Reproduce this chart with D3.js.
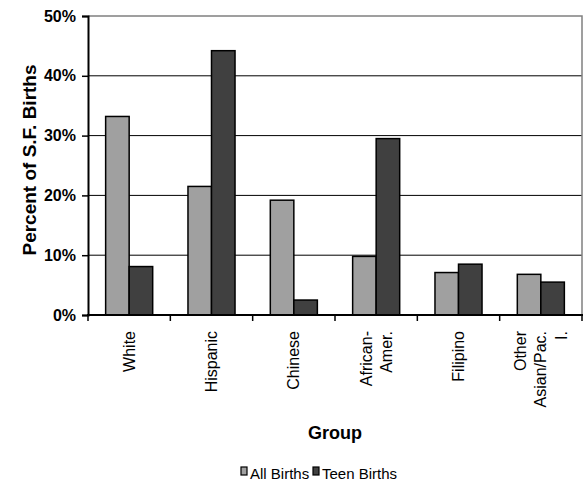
<!DOCTYPE html>
<html>
<head>
<meta charset="utf-8">
<script src="https://cdn.jsdelivr.net/npm/d3@7"></script>
<style>
  html, body { margin: 0; padding: 0; background: #fff; }
  svg { display: block; font-family: Arial, "Liberation Sans", sans-serif; }
</style>
</head>
<body>
<svg id="chart" width="584" height="487"></svg>
<script>
// Share of San Francisco births by group (percent)
const categories = ["White", "Hispanic", "Chinese", "African-\nAmer.", "Filipino", "Other\nAsian/Pac.\nI."];
const allBirths  = [33.2, 21.5, 19.2, 9.8, 7.1, 6.8];
const teenBirths = [8.1, 44.2, 2.5, 29.5, 8.5, 5.5];
const seriesNames = ["All Births", "Teen Births"];
const seriesColors = ["#a0a0a0", "#404040"];
const yTicks = [0, 10, 20, 30, 40, 50];

const svg = d3.select("#chart");
const plot = { left: 88, right: 582, top: 16, bottom: 315 };

const x = d3.scaleBand().domain(categories).range([plot.left, plot.right]).padding(0);
const xs = d3.scaleBand().domain(seriesNames).range([0, x.bandwidth()])
  .paddingInner(0).paddingOuter(0.75);
const y = d3.scaleLinear().domain([0, 50]).range([plot.bottom, plot.top]);

// gridlines
svg.append("g")
  .selectAll("line")
  .data(yTicks.filter(t => t > 0 && t < 50))
  .join("line")
  .attr("x1", plot.left).attr("x2", plot.right)
  .attr("y1", d => y(d)).attr("y2", d => y(d))
  .attr("stroke", "#000").attr("stroke-width", 1);

// plot frame (top and right edges)
svg.append("path")
  .attr("d", `M${plot.left},${y(50)}H${plot.right}V${plot.bottom}`)
  .attr("fill", "none").attr("stroke", "#808080").attr("stroke-width", 1.5);

// bars
const rows = categories.map((c, i) => ({ cat: c, vals: [allBirths[i], teenBirths[i]] }));
const groups = svg.append("g").selectAll("g")
  .data(rows).join("g")
  .attr("transform", d => `translate(${x(d.cat)},0)`);
groups.selectAll("rect")
  .data(d => d.vals.map((v, j) => ({ v, s: seriesNames[j], c: seriesColors[j] })))
  .join("rect")
  .attr("x", d => xs(d.s))
  .attr("width", xs.bandwidth())
  .attr("y", d => y(d.v))
  .attr("height", d => y(0) - y(d.v))
  .attr("fill", d => d.c)
  .attr("stroke", "#000").attr("stroke-width", 1.5);

// y axis
const yAxis = svg.append("g")
  .attr("transform", `translate(${plot.left},0)`)
  .call(d3.axisLeft(y).tickValues(yTicks).tickFormat(d => d + "%").tickSize(6).tickPadding(6));
yAxis.select(".domain").attr("stroke", "#000").attr("stroke-width", 2);
yAxis.selectAll(".tick line").attr("stroke", "#000").attr("stroke-width", 1.5);
yAxis.selectAll(".tick text")
  .attr("fill", "#000").style("font-size", "16px").style("font-weight", "bold")
  .style("font-family", "Arial, 'Liberation Sans', sans-serif");

// x axis baseline with ticks at category boundaries
const boundaries = categories.map(c => x(c)).concat([plot.right]);
svg.append("g").selectAll("line")
  .data(boundaries).join("line")
  .attr("x1", d => d).attr("x2", d => d)
  .attr("y1", plot.bottom).attr("y2", plot.bottom + 6)
  .attr("stroke", "#000").attr("stroke-width", 1.5);
svg.append("line")
  .attr("x1", plot.left - 1).attr("x2", plot.right + 1)
  .attr("y1", plot.bottom).attr("y2", plot.bottom)
  .attr("stroke", "#000").attr("stroke-width", 2);

// rotated category labels
const lineH = 20.5;
const labelTop = 331;
svg.append("g").selectAll("text")
  .data(categories).join("text")
  .attr("transform", d => `translate(${x(d) + x.bandwidth() / 2},${labelTop}) rotate(-90)`)
  .attr("text-anchor", "end")
  .style("font-size", "16px")
  .each(function (d) {
    const lines = d.split("\n");
    const t = d3.select(this);
    lines.forEach((ln, i) => {
      t.append("tspan")
        .attr("x", 0)
        .attr("y", (i - (lines.length - 1) / 2) * lineH)
        .attr("dy", "0.35em")
        .text(ln);
    });
  });

// axis titles
svg.append("text")
  .attr("transform", `translate(36,160) rotate(-90)`)
  .attr("text-anchor", "middle")
  .style("font-size", "19px").style("font-weight", "bold")
  .text("Percent of S.F. Births");

svg.append("text")
  .attr("x", (plot.left + plot.right) / 2).attr("y", 439)
  .attr("text-anchor", "middle")
  .style("font-size", "18px").style("font-weight", "bold")
  .text("Group");

// legend
const legendItems = [
  { name: seriesNames[0], color: seriesColors[0], x: 241 },
  { name: seriesNames[1], color: seriesColors[1], x: 313 }
];
const lg = svg.append("g").selectAll("g").data(legendItems).join("g")
  .attr("transform", d => `translate(${d.x},0)`);
lg.append("rect")
  .attr("x", 0).attr("y", 467).attr("width", 6).attr("height", 8)
  .attr("fill", d => d.color).attr("stroke", "#000").attr("stroke-width", 1.2);
lg.append("text")
  .attr("x", 9).attr("y", 479)
  .style("font-size", "15px")
  .text(d => d.name);
</script>
</body>
</html>
